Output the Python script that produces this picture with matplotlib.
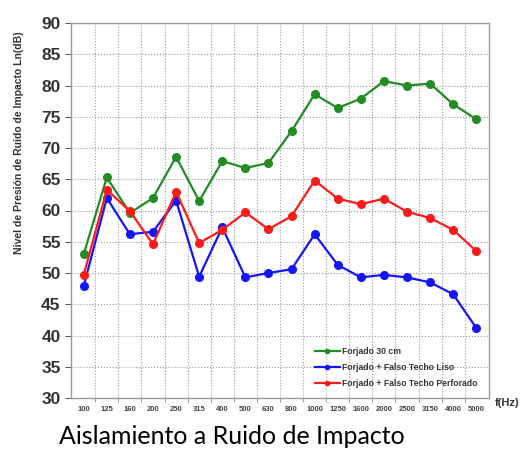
import numpy as np
import matplotlib
matplotlib.use("Agg")
import matplotlib.pyplot as plt

# frecuencias (Hz)
frecuencias = ["100", "125", "160", "200", "250", "315", "400", "500", "630",
               "800", "1000", "1250", "1600", "2000", "2500", "3150", "4000", "5000"]
forjado = [53.0, 65.3, 59.6, 62.0, 68.6, 61.5, 67.9, 66.8, 67.6,
           72.7, 78.6, 76.4, 77.9, 80.7, 80.0, 80.3, 77.0, 74.6]
techo_liso = [47.9, 62.0, 56.2, 56.6, 61.6, 49.4, 57.3, 49.3, 50.0,
              50.6, 56.2, 51.3, 49.3, 49.7, 49.3, 48.5, 46.6, 41.2]
techo_perforado = [49.7, 63.3, 59.9, 54.6, 63.0, 54.8, 56.9, 59.7, 57.0,
                   59.1, 64.8, 61.9, 61.0, 61.9, 59.8, 58.8, 56.9, 53.5]

plt.rcParams["font.family"] = ["Liberation Sans", "DejaVu Sans"]

fig = plt.figure(figsize=(5.27, 4.5), dpi=100)
ax = fig.add_axes([71/527, 1 - 398/450, 418/527, 375/450])

x = np.arange(len(frecuencias))
ax.plot(x, forjado, color="#228b22", lw=1.6, marker="o", ms=5.5, label="Forjado 30 cm")
ax.plot(x, techo_liso, color="#1414ff", lw=1.6, marker="o", ms=5.5, label="Forjado + Falso Techo Liso")
ax.plot(x, techo_perforado, color="#ff1a1a", lw=1.6, marker="o", ms=5.5, label="Forjado + Falso Techo Perforado")

ax.set_xlim(-0.55, len(frecuencias) - 0.45)
ax.set_ylim(30, 90)
ax.set_yticks(range(30, 91, 5))
ax.set_xticks(x)
ax.set_xticklabels(frecuencias, fontsize=5.5, fontweight="bold", color="#444444")
ax.set_xticks(x[:-1] + 0.5, minor=True)
ax.tick_params(axis="y", labelsize=12.5, colors="#333333", length=4, width=0.6)
for t in ax.get_yticklabels():
    t.set_fontweight("bold")
ax.tick_params(axis="x", which="major", length=0, pad=6)
ax.tick_params(axis="x", which="minor", length=3, width=0.6, color="#888888")

ax.grid(True, axis="y", which="major", ls=":", color="#999999", lw=0.8)
ax.grid(True, axis="x", which="minor", ls=":", color="#999999", lw=0.8)
for s in ax.spines.values():
    s.set_color("#999999")
    s.set_linewidth(1)

ax.set_ylabel("Nivel de Presión de Ruido de Impacto Ln(dB)", fontsize=7.5,
              fontweight="bold", color="#333333")
ax.yaxis.set_label_coords(-0.112, 0.68)
fig.text(495/527, 1 - 403/450, "f(Hz)", fontsize=8, fontweight="bold",
         color="#333333", ha="left", va="center")

leg = ax.legend(loc="lower right", bbox_to_anchor=(0.99, 0.005), frameon=False,
                prop={"size": 6.2, "weight": "bold"}, markerscale=0.55,
                handlelength=2.9, labelspacing=0.85, handletextpad=0.2)
for t in leg.get_texts():
    t.set_color("#333333")

fig.text(232/527, 0.005, "Aislamiento a Ruido de Impacto", ha="center", va="bottom",
         fontsize=18, family="Lato", color="black")

fig.savefig("out.png", dpi=100)
